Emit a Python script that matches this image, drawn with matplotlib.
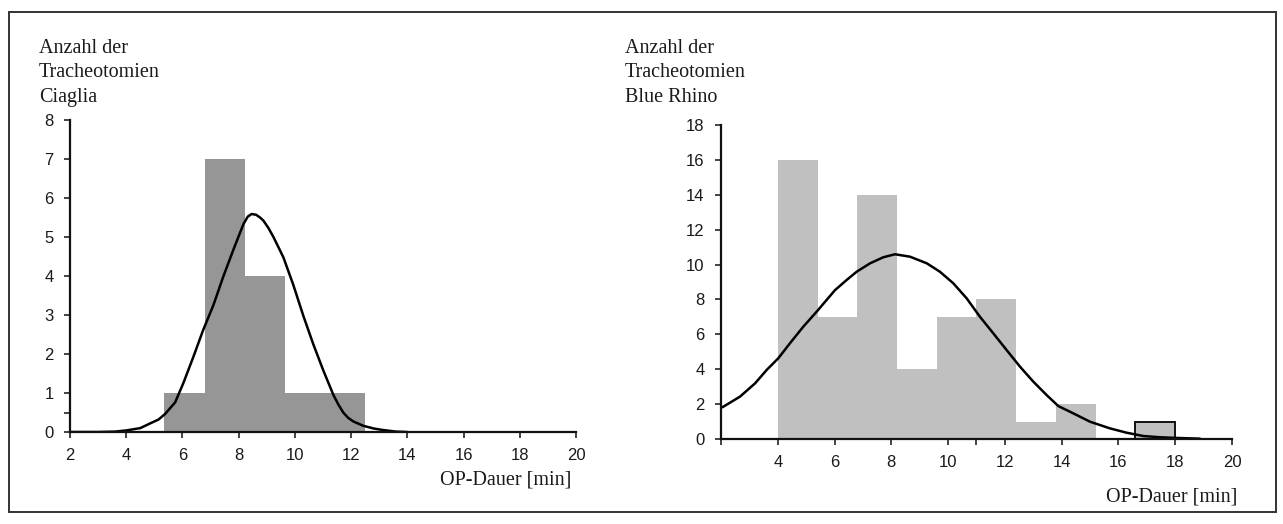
import numpy as np
import matplotlib
matplotlib.use("Agg")
import matplotlib.pyplot as plt
from matplotlib.patches import Rectangle
from matplotlib.ticker import FixedLocator

# ---------------- data ----------------
# Ciaglia histogram
ciaglia_edges = [5.36, 6.79, 8.22, 9.65, 11.08, 12.51]
ciaglia_counts = [1, 7, 4, 1, 1]
# Ciaglia fitted curve
ciaglia_curve_x = [2, 3, 3.6, 4.0, 4.5, 4.85, 5.15, 5.38, 5.74, 6.03, 6.39, 6.74, 7.10,
                   7.45, 7.81, 8.0, 8.17, 8.32, 8.46, 8.62, 8.76, 8.88, 9.05, 9.23,
                   9.59, 9.94, 10.30, 10.66, 11.01, 11.37, 11.55, 11.72, 11.9, 12.08,
                   12.43, 12.8, 13.14, 13.6, 14.0]
ciaglia_curve_y = [0, 0, 0.01, 0.04, 0.10, 0.22, 0.32, 0.46, 0.76, 1.25, 1.93, 2.62, 3.25,
                   3.98, 4.67, 5.02, 5.33, 5.52, 5.59, 5.57, 5.50, 5.42, 5.24, 5.01,
                   4.48, 3.78, 2.98, 2.24, 1.58, 0.95, 0.70, 0.50, 0.36, 0.27,
                   0.16, 0.09, 0.05, 0.01, 0]

# Blue Rhino histogram
rhino_edges = [4.0, 5.4, 6.8, 8.2, 9.6, 11.0, 12.4, 13.8, 15.2, 16.6, 18.0]
rhino_counts = [16, 7, 14, 4, 7, 8, 1, 2, 0, 1]
# Blue Rhino fitted curve
rhino_curve_x = [2.05, 2.67, 3.20, 3.61, 4.02, 4.43, 4.90, 5.37, 5.72, 6.02, 6.43, 6.78,
                 7.25, 7.72, 8.13, 8.66, 9.25, 9.71, 10.18, 10.65, 11.12, 11.59, 12.06,
                 12.53, 13.00, 13.47, 13.88, 14.41, 15.00, 15.70, 16.29, 16.88, 17.46,
                 18.05, 18.87]
rhino_curve_y = [1.82, 2.43, 3.19, 3.96, 4.63, 5.49, 6.44, 7.30, 7.97, 8.54, 9.12, 9.59,
                 10.07, 10.42, 10.59, 10.45, 10.07, 9.59, 8.93, 8.07, 7.01, 6.06, 5.10,
                 4.15, 3.29, 2.52, 1.89, 1.47, 0.99, 0.61, 0.36, 0.17, 0.10,
                 0.06, 0.02]

x_ticks = [2, 4, 6, 8, 10, 12, 14, 16, 18, 20]
left_xticklabels = ["2", "4", "6", "8", "10", "12", "14", "16", "18", "20"]
right_xticklabels = ["", "4", "6", "8", "10", "12", "14", "16", "18", "20"]
left_yticks = [0, 1, 2, 3, 4, 5, 6, 7, 8]
right_yticks = [0, 2, 4, 6, 8, 10, 12, 14, 16, 18]

label_lines_left = ["Anzahl der", "Tracheotomien", "Ciaglia"]
label_lines_right = ["Anzahl der", "Tracheotomien", "Blue Rhino"]
xlabel_text = "OP-Dauer [min]"

# ---------------- figure ----------------
W, H = 1283, 524
fig = plt.figure(figsize=(W / 100, H / 100), dpi=100)
fig.patch.set_facecolor("white")

def fx(px):
    return px / W

def fy(py):
    return 1 - py / H

serif = "Liberation Serif"
sans = "Liberation Sans"

# outer frame
fig.add_artist(Rectangle((fx(9), fy(512)), fx(1276) - fx(9), fy(12) - fy(512),
                         transform=fig.transFigure, fill=False,
                         edgecolor="#333333", linewidth=1.4))

def style_axes(ax, xlim, ylim, yticks, xticklabels):
    ax.set_xlim(*xlim)
    ax.set_ylim(*ylim)
    for s in ["top", "right"]:
        ax.spines[s].set_visible(False)
    for s in ["left", "bottom"]:
        ax.spines[s].set_linewidth(1.6)
        ax.spines[s].set_color("#111111")
        ax.spines[s].set_zorder(5)
    ax.set_xticks(x_ticks)
    ax.set_xticklabels(xticklabels)
    ax.set_yticks(yticks)
    ax.tick_params(axis="both", which="major", direction="out", length=4.3,
                   width=1.1, color="#111111", labelsize=12, pad=7.5,
                   labelcolor="#1a1a1a")
    ax.tick_params(axis="both", which="minor", direction="out", length=4.3,
                   width=1.1, color="#111111")
    for lab in ax.get_xticklabels() + ax.get_yticklabels():
        lab.set_fontfamily(sans)
    ax.patch.set_visible(False)

# left axes
axL = fig.add_axes([fx(70), fy(432), fx(576) - fx(70), fy(120) - fy(432)])
widths = np.diff(ciaglia_edges)
axL.bar(ciaglia_edges[:-1], ciaglia_counts, width=widths, align="edge",
        color="#969696", edgecolor="none", linewidth=0, zorder=1)
axL.plot(ciaglia_curve_x, ciaglia_curve_y, color="black", lw=1.8, zorder=3,
         solid_joinstyle="round", solid_capstyle="round")
style_axes(axL, (2, 20), (0, 8), left_yticks, left_xticklabels)
axL.yaxis.set_minor_locator(FixedLocator([0.5]))

# right axes
axR = fig.add_axes([fx(721), fy(439), fx(1232) - fx(721), fy(125) - fy(439)])
widths = np.diff(rhino_edges)
for left, w, c in zip(rhino_edges[:-1], widths, rhino_counts):
    if c == 0:
        continue
    last = left >= 16.5
    axR.bar(left, c, width=w, align="edge", color="#c0c0c0",
            edgecolor="#111111" if last else "none",
            linewidth=1.4 if last else 0, zorder=1)
axR.plot(rhino_curve_x, rhino_curve_y, color="black", lw=1.8, zorder=3,
         solid_joinstyle="round", solid_capstyle="round")
style_axes(axR, (2, 20), (0, 18), right_yticks, right_xticklabels)
axR.xaxis.set_minor_locator(FixedLocator([11]))

# serif annotations
baselines = [52.7, 77.2, 101.7]
for txt, b in zip(label_lines_left, baselines):
    fig.text(fx(39), fy(b), txt, family=serif, fontsize=14.5, va="baseline",
             ha="left", color="#1a1a1a")
for txt, b in zip(label_lines_right, baselines):
    fig.text(fx(625), fy(b), txt, family=serif, fontsize=14.5, va="baseline",
             ha="left", color="#1a1a1a")

fig.text(fx(571), fy(485), xlabel_text, family=serif, fontsize=14.5,
         va="baseline", ha="right", color="#1a1a1a")
fig.text(fx(1237), fy(501.5), xlabel_text, family=serif, fontsize=14.5,
         va="baseline", ha="right", color="#1a1a1a")

fig.savefig("out.png", dpi=100, facecolor="white")
